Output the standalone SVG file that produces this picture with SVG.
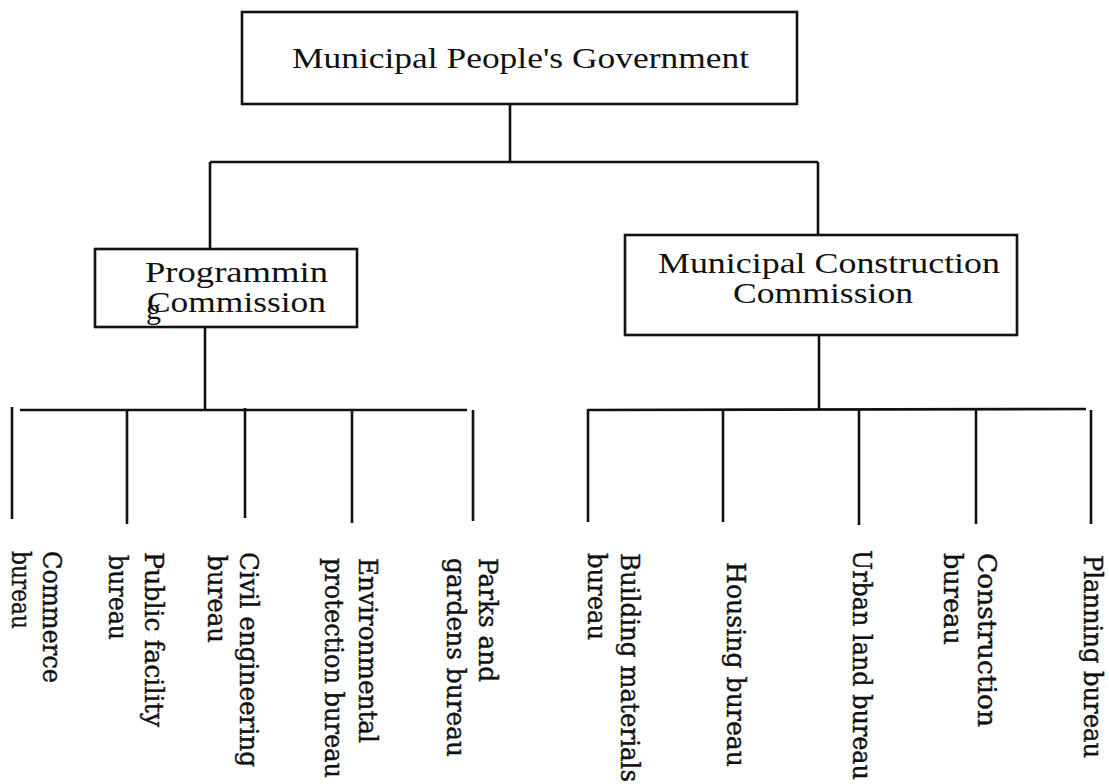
<svg xmlns="http://www.w3.org/2000/svg" width="1109" height="784" viewBox="0 0 1109 784">
<style>
.box{fill:#fff;stroke:#111;stroke-width:2.6}
.ln{stroke:#111;stroke-width:2.6;fill:none;stroke-linecap:butt}
.h{font-family:"Liberation Serif","DejaVu Serif",serif;font-size:30px;fill:#111}
.v{font-family:"DejaVu Serif Condensed","DejaVu Serif","Liberation Serif",serif;font-stretch:condensed;font-size:26px;fill:#111;stroke:#111;stroke-width:0.4}
</style>
<rect width="1109" height="784" fill="#fff"/>
<g id="connectors">
<line class="ln" x1="510" y1="104" x2="510" y2="162"/>
<line class="ln" x1="210" y1="162" x2="818" y2="162"/>
<line class="ln" x1="210" y1="162" x2="210" y2="249"/>
<line class="ln" x1="818" y1="162" x2="818" y2="235"/>
<line class="ln" x1="205" y1="327" x2="205" y2="410"/>
<line class="ln" x1="20" y1="410" x2="467" y2="410"/>
<line class="ln" x1="12" y1="407" x2="12" y2="519"/>
<line class="ln" x1="127" y1="410" x2="127" y2="524"/>
<line class="ln" x1="245" y1="408" x2="245" y2="518"/>
<line class="ln" x1="352" y1="410" x2="352" y2="523"/>
<line class="ln" x1="473" y1="410" x2="473" y2="521"/>
<line class="ln" x1="819" y1="335" x2="819" y2="410"/>
<line class="ln" x1="588" y1="410" x2="1086" y2="409"/>
<line class="ln" x1="588" y1="409" x2="588" y2="522"/>
<line class="ln" x1="723" y1="410" x2="723" y2="522"/>
<line class="ln" x1="859" y1="410" x2="859" y2="525"/>
<line class="ln" x1="976" y1="410" x2="976" y2="524"/>
<line class="ln" x1="1091" y1="410" x2="1091" y2="524"/>
</g>
<g id="n-government">
<rect class="box" x="242" y="12" width="555" height="92"/>
<text class="h" x="292" y="68" textLength="457" lengthAdjust="spacingAndGlyphs">Municipal People's Government</text>
</g>
<g id="n-programming">
<rect class="box" x="95" y="249" width="262" height="78"/>
<text class="h" x="145" y="282" textLength="183" lengthAdjust="spacingAndGlyphs">Programmin</text>
<text class="h" x="147" y="312" textLength="179" lengthAdjust="spacingAndGlyphs">Commission</text>
<text class="h" x="146" y="319">g</text>
</g>
<g id="n-construction-commission">
<rect class="box" x="625" y="235" width="392" height="100"/>
<text class="h" x="658" y="273" textLength="342" lengthAdjust="spacingAndGlyphs">Municipal Construction</text>
<text class="h" x="733" y="303" textLength="180" lengthAdjust="spacingAndGlyphs">Commission</text>
</g>
<g id="n-commerce">
<text class="v" transform="translate(43,551) rotate(90)" textLength="132" lengthAdjust="spacingAndGlyphs">Commerce</text>
<text class="v" transform="translate(12,551) rotate(90)" textLength="78" lengthAdjust="spacingAndGlyphs">bureau</text>
</g>
<g id="n-public-facility">
<text class="v" transform="translate(145,552) rotate(90)" textLength="175" lengthAdjust="spacingAndGlyphs">Public facility</text>
<text class="v" transform="translate(109,555) rotate(90)" textLength="85" lengthAdjust="spacingAndGlyphs">bureau</text>
</g>
<g id="n-civil">
<text class="v" transform="translate(240,552) rotate(90)" textLength="215" lengthAdjust="spacingAndGlyphs">Civil engineering</text>
<text class="v" transform="translate(208,555) rotate(90)" textLength="88" lengthAdjust="spacingAndGlyphs">bureau</text>
</g>
<g id="n-environmental">
<text class="v" transform="translate(359,558) rotate(90)" textLength="185" lengthAdjust="spacingAndGlyphs">Environmental</text>
<text class="v" transform="translate(325,558) rotate(90)" textLength="220" lengthAdjust="spacingAndGlyphs">protection bureau</text>
</g>
<g id="n-parks">
<text class="v" transform="translate(479,558) rotate(90)" textLength="124" lengthAdjust="spacingAndGlyphs">Parks and</text>
<text class="v" transform="translate(447,558) rotate(90)" textLength="199" lengthAdjust="spacingAndGlyphs">gardens bureau</text>
</g>
<g id="n-building-materials">
<text class="v" transform="translate(621,553) rotate(90)" textLength="229" lengthAdjust="spacingAndGlyphs">Building materials</text>
<text class="v" transform="translate(588,553) rotate(90)" textLength="87" lengthAdjust="spacingAndGlyphs">bureau</text>
</g>
<g id="n-housing">
<text class="v" transform="translate(727,562) rotate(90)" textLength="205" lengthAdjust="spacingAndGlyphs">Housing bureau</text>
</g>
<g id="n-urban-land">
<text class="v" transform="translate(853,550) rotate(90)" textLength="230" lengthAdjust="spacingAndGlyphs">Urban land bureau</text>
</g>
<g id="n-construction">
<text class="v" transform="translate(978,553) rotate(90)" textLength="174" lengthAdjust="spacingAndGlyphs">Construction</text>
<text class="v" transform="translate(944,553) rotate(90)" textLength="92" lengthAdjust="spacingAndGlyphs">bureau</text>
</g>
<g id="n-planning">
<text class="v" transform="translate(1084,555) rotate(90)" textLength="203" lengthAdjust="spacingAndGlyphs">Planning bureau</text>
</g>
</svg>
